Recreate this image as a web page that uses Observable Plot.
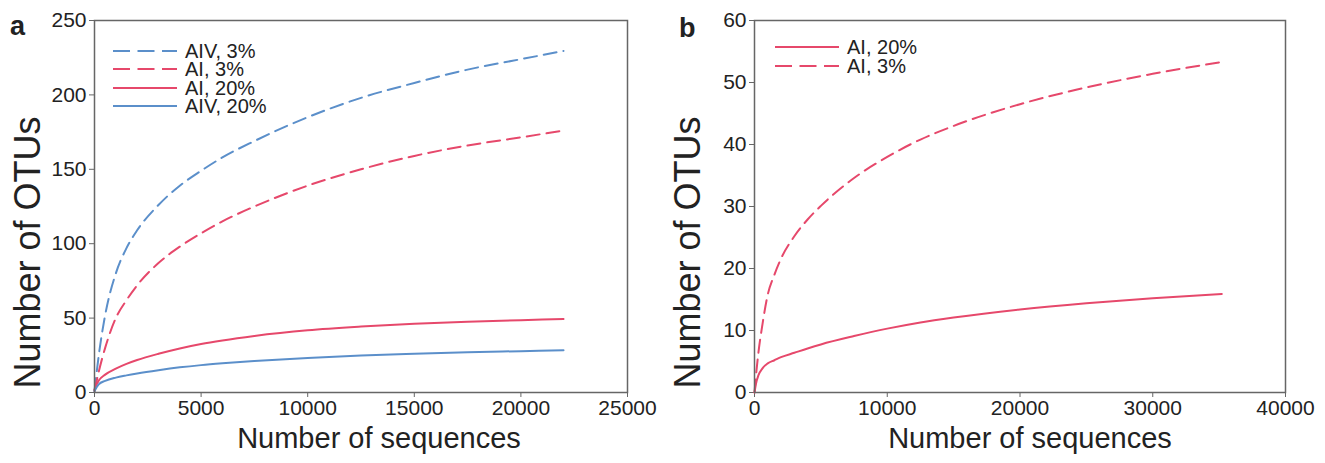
<!DOCTYPE html>
<html><head><meta charset="utf-8">
<script src="https://cdn.jsdelivr.net/npm/d3@7"></script>
<script src="https://cdn.jsdelivr.net/npm/@observablehq/plot@0.6"></script>
<style>
body{margin:0;background:#fff;font-family:"Liberation Sans",Arial,sans-serif;color:#222;}
#wrap{position:relative;width:1325px;height:463px;display:flex;}
.panel{position:relative;}
.tag{position:absolute;font-weight:bold;font-size:27px;line-height:27px;}
.legend{position:absolute;font-size:20px;}
.legend .row{position:absolute;display:flex;align-items:center;white-space:nowrap;height:18px;line-height:18px;}
.legend svg{margin-right:8px;}
</style></head><body><div id="wrap"></div>
<script>
// ---- Panel a data ----
const seqA = [0, 200, 500, 1000, 1500, 2000, 3000, 4000, 5000, 6000, 7500, 10000, 12500, 15000, 17500, 20000, 22000];
const aiv3A  = [1, 25, 52, 80, 97, 109, 126, 139, 149, 158, 169, 185, 198, 208, 217, 224, 229.5];
const ai3A   = [1, 14, 30, 50, 62, 72, 87, 98, 107, 115, 125, 139, 150, 159, 166, 171.5, 176];
const ai20A  = [2, 8, 12, 16, 19.2, 21.8, 26, 29.6, 32.6, 35, 38, 41.8, 44.3, 46.2, 47.6, 48.6, 49.4];
const aiv20A = [1, 5.5, 7.8, 10, 11.5, 12.8, 15, 16.9, 18.4, 19.6, 21.1, 23.2, 24.8, 26, 27, 27.8, 28.4];
// ---- Panel b data ----
const seqB = [0, 100, 300, 600, 1000, 1500, 2000, 3000, 4000, 5000, 7500, 10000, 12500, 15000, 20000, 25000, 30000, 35200];
const ai20B = [0, 1.3, 2.8, 3.9, 4.7, 5.2, 5.7, 6.4, 7.1, 7.75, 9.1, 10.3, 11.3, 12.1, 13.4, 14.4, 15.2, 15.9];
const ai3B  = [0, 2.5, 6.5, 11, 15.8, 19, 21.6, 25.2, 27.9, 30.1, 34.6, 38.0, 40.8, 43.0, 46.5, 49.2, 51.4, 53.3];
// ---- axes ----
const xTicksA = [0, 5000, 10000, 15000, 20000, 25000];
const yTicksA = [0, 50, 100, 150, 200, 250];
const xTicksB = [0, 10000, 20000, 30000, 40000];
const yTicksB = [0, 10, 20, 30, 40, 50, 60];
const xTitle = "Number of sequences";
const yTitle = "Number of OTUs";
const BLUE = "#5b8fca", RED = "#e6486b";
const DASH = "13,7";

const seriesA = [
  {name: "AIV, 3%",  y: aiv3A,  color: BLUE, dash: true},
  {name: "AI, 3%",   y: ai3A,   color: RED,  dash: true},
  {name: "AI, 20%",  y: ai20A,  color: RED,  dash: false},
  {name: "AIV, 20%", y: aiv20A, color: BLUE, dash: false}
];
const seriesB = [
  {name: "AI, 20%", y: ai20B, color: RED, dash: false},
  {name: "AI, 3%",  y: ai3B,  color: RED, dash: true}
];

function makePanel({width, ml, mr, xs, series, xDomain, xTicks, yDomain, yTicks, tag, tagLeft, tagTop, legLeft, legTop, legGap, xTitleDx}) {
  const fmt = d3.format("d");
  const lines = series.map(s => Plot.line(xs.map((x, i) => ({x, y: s.y[i]})), {
    x: "x", y: "y", stroke: s.color, strokeWidth: 2,
    strokeDasharray: s.dash ? DASH : null, curve: "monotone-x"
  }));
  const chart = Plot.plot({
    width, height: 463, marginLeft: ml, marginRight: mr, marginTop: 20, marginBottom: 71,
    style: {fontFamily: "'Liberation Sans', Arial, sans-serif", background: "white", color: "#222", overflow: "visible"},
    x: {domain: xDomain},
    y: {domain: yDomain},
    marks: [
      Plot.axisX({ticks: xTicks, tickFormat: fmt, tickSize: 5, tickPadding: 3, fontSize: 21, label: null, stroke: "#666"}),
      Plot.axisY({ticks: yTicks, tickFormat: fmt, tickSize: 5, tickPadding: 3, fontSize: 21, label: null, stroke: "#666"}),
      ...lines,
      Plot.frame({stroke: "#666", strokeWidth: 1.5}),
      Plot.text([xTitle], {text: d => d, frameAnchor: "bottom", dy: 55, dx: xTitleDx, fontSize: 29, fill: "#222"}),
      Plot.text([yTitle], {text: d => d, frameAnchor: "left", textAnchor: "middle", dx: -66, dy: 46, rotate: -90, fontSize: 36, fill: "#222"})
    ]
  });
  const div = document.createElement("div");
  div.className = "panel";
  div.style.width = width + "px";
  div.appendChild(chart);
  const t = document.createElement("div");
  t.className = "tag"; t.textContent = tag;
  t.style.left = tagLeft + "px"; t.style.top = tagTop + "px";
  div.appendChild(t);
  const leg = document.createElement("div");
  leg.className = "legend";
  leg.style.left = legLeft + "px"; leg.style.top = legTop + "px";
  series.forEach((s, i) => {
    const row = document.createElement("div");
    row.className = "row";
    row.style.top = (i * legGap) + "px";
    row.innerHTML = `<svg width="64" height="6"><line x1="0" x2="64" y1="3" y2="3" stroke="${s.color}" stroke-width="2" ${s.dash ? 'stroke-dasharray="17,7.5"' : ''}/></svg><span>${s.name}</span>`;
    leg.appendChild(row);
  });
  div.appendChild(leg);
  return div;
}

const wrap = document.getElementById("wrap");
wrap.appendChild(makePanel({width: 662, ml: 94, mr: 35, xs: seqA, series: seriesA,
  xDomain: [0, 25000], xTicks: xTicksA, yDomain: [0, 250], yTicks: yTicksA,
  tag: "a", tagLeft: 10, tagTop: 13, legLeft: 113, legTop: 42, legGap: 18.3, xTitleDx: 18}));
wrap.appendChild(makePanel({width: 663, ml: 92, mr: 40, xs: seqB, series: seriesB,
  xDomain: [0, 40000], xTicks: xTicksB, yDomain: [0, 60], yTicks: yTicksB,
  tag: "b", tagLeft: 17, tagTop: 15, legLeft: 113, legTop: 38, legGap: 19, xTitleDx: 10}));
</script></body></html>
